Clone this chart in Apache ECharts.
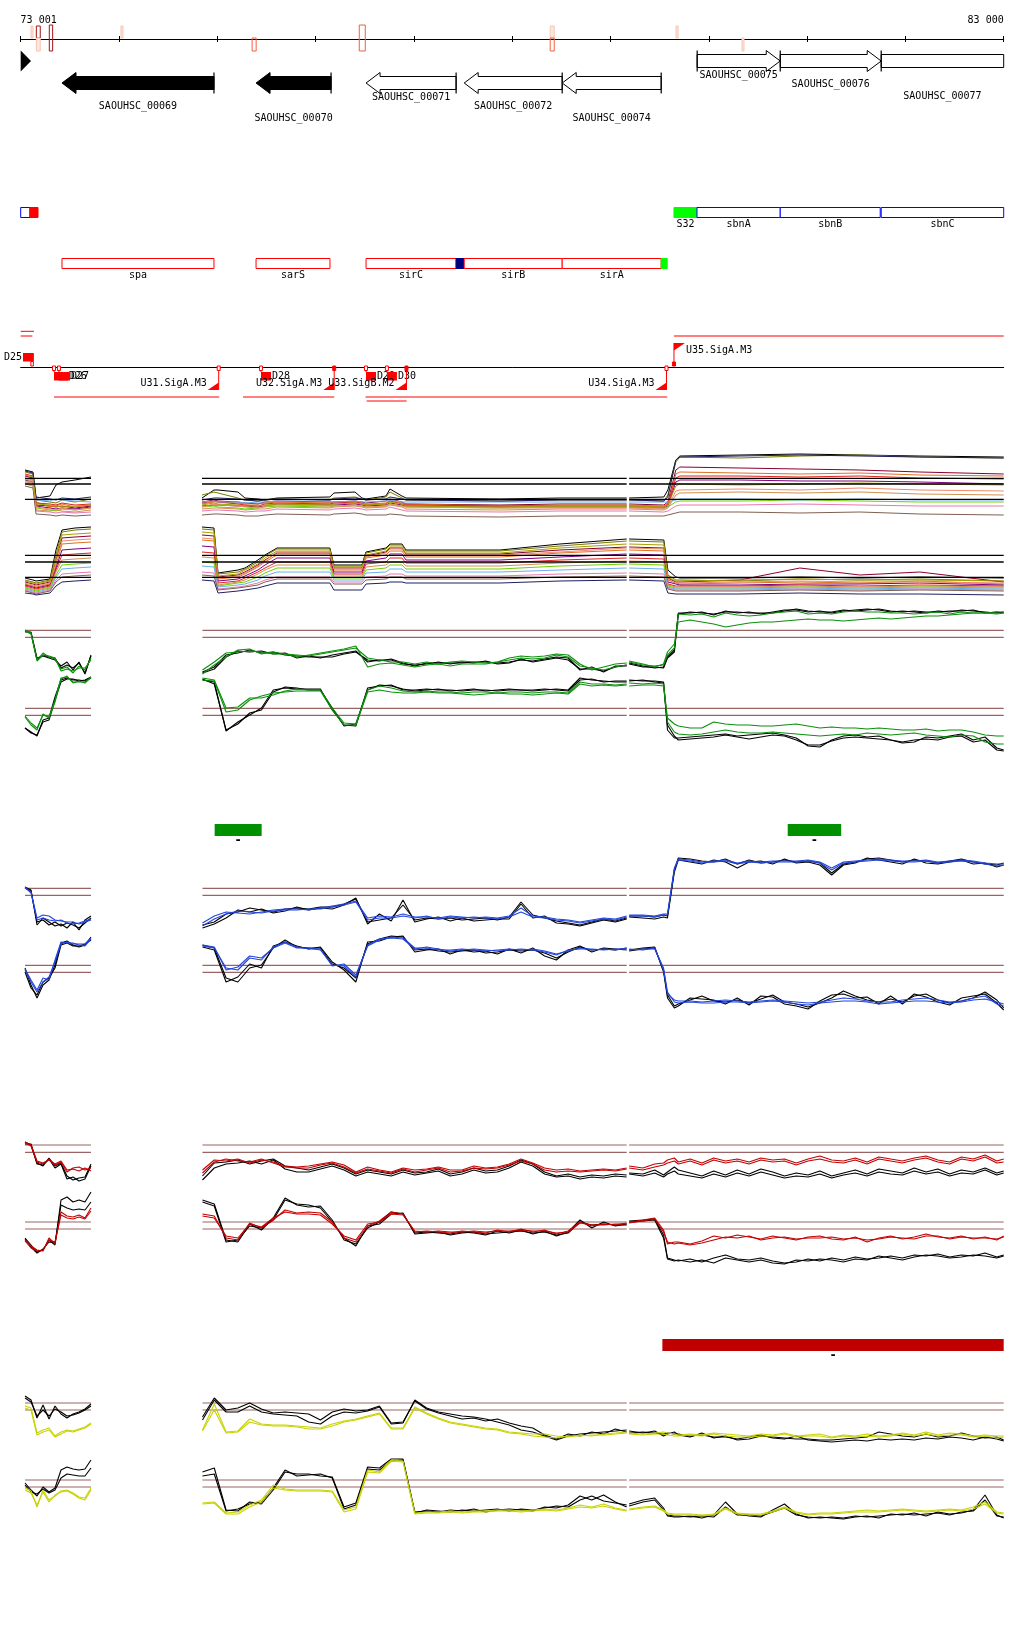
<!DOCTYPE html>
<html>
<head>
<meta charset="utf-8">
<script src="https://cdn.jsdelivr.net/npm/echarts@6.0.0/dist/echarts.min.js"></script>
<style>
html,body{margin:0;padding:0;background:#ffffff;}
#chart{width:1024px;height:1640px;}
</style>
</head>
<body>
<div id="chart"></div>
<script>
// ================= DATA =================
const VIEW_MIN = 73000;
const VIEW_MAX = 83000;
const TICK_STEP = 1000;
const END_LABELS = ['73 001', '83 000'];

// ruler feature marks
const RULER_START = [73106, 73160, 73160, 73292, 74021, 75355, 76445, 78387, 78387, 79667, 80338];
const RULER_END   = [73126, 73200, 73200, 73326, 74041, 75396, 76506, 78428, 78428, 79688, 80358];
const RULER_SIDE  = ['up', 'up', 'down', 'both', 'up', 'down', 'both', 'up', 'down', 'up', 'down'];
const RULER_SHADE = ['pale', 'dark', 'pale', 'dark', 'pale', 'mid', 'mid', 'pale', 'mid', 'pale', 'pale'];

// genes
const GENE_NAMES  = ['SAOUHSC_00069', 'SAOUHSC_00070', 'SAOUHSC_00071', 'SAOUHSC_00072', 'SAOUHSC_00074', 'SAOUHSC_00075', 'SAOUHSC_00076', 'SAOUHSC_00077'];
const GENE_START  = [73421, 75395, 76514, 77512, 78509, 79882, 80727, 81754];
const GENE_END    = [74967, 76158, 77430, 78509, 79516, 80727, 81754, 83000];
const GENE_STRAND = ['-', '-', '-', '-', '-', '+', '+', '+'];
const GENE_FILLED = [true, true, false, false, false, false, false, false];
const GENE_LABEL_ROW = [1, 2, 0, 1, 2, 0, 1, 2];
const START_MARK = [73001, 73106];

// annotation row 1
const ANN1_START = [73001, 73095, 79646, 79880, 80727, 81754];
const ANN1_END   = [73095, 73177, 79880, 80727, 81744, 83000];
const ANN1_LABEL = ['', '', 'S32', 'sbnA', 'sbnB', 'sbnC'];
const ANN1_KIND  = ['outline', 'fill', 'fill', 'outline', 'outline', 'outline'];
const ANN1_COLOR = ['#0000ff', '#ff0000', '#00ff00', '#0000ff', '#0000ff', '#0000ff'];

// annotation row 2
const ANN2_START = [73421, 75395, 76514, 77430, 77512, 78509, 79516];
const ANN2_END   = [74967, 76147, 77430, 77512, 78509, 79516, 79577];
const ANN2_LABEL = ['spa', 'sarS', 'sirC', '', 'sirB', 'sirA', ''];
const ANN2_KIND  = ['outline', 'outline', 'outline', 'fill', 'outline', 'outline', 'fill'];
const ANN2_COLOR = ['#ff0000', '#ff0000', '#ff0000', '#000080', '#ff0000', '#ff0000', '#00ff00'];

// transcripts
const TX_START  = [73001, 73001, 79646, 73340, 75262, 76509, 76520];
const TX_END    = [73136, 73120, 83000, 75020, 76190, 79577, 76927];
const TX_STRAND = ['+', '+', '+', '-', '-', '-', '-'];
const TX_ROW    = [1, 0, 0, 0, 0, 0, 1];

// promoters
const PROM_NAME   = ['U31.SigA.M3', 'U32.SigA.M3', 'U33.SigB.M2', 'U34.SigA.M3', 'U35.SigA.M3'];
const PROM_POS    = [75015, 76190, 76925, 79570, 79646];
const PROM_STRAND = ['-', '-', '-', '-', '+'];
const PROM_BOX    = ['open', 'filled', 'filled', 'open', 'filled'];

// D elements
const D_NAME   = ['D25', 'D26', 'D27', 'D28', 'D29', 'D30'];
const D_START  = [73024, 73340, 73390, 75445, 76513, 76726];
const D_END    = [73135, 73480, 73502, 75547, 76615, 76828];
const D_STRAND = ['+', '-', '-', '-', '-', '-'];

// region bars
const GBAR_START = [74974, 80803];
const GBAR_END   = [75452, 81347];
const GBAR_LABEL = ['-', '-'];
const RBAR_START = [79528];
const RBAR_END   = [83000];
const RBAR_LABEL = ['-'];

// ---------- multi-profile track ----------
const MPOS = [73045, 73126, 73157, 73299, 73360, 73421, 73553, 73716,
  74845, 74967, 75008, 75211, 75282, 75414, 75486, 75608, 76146, 76187, 76401, 76472, 76513, 76716, 76757, 76879, 76920, 77876, 78486, 79165,
  79190, 79543, 79584, 79665, 79706, 80317, 80927, 81537, 82147, 83000];
const MF01 = [140,138,112,114,125,128,130,133, 112,120,120,118,112,111,110,112,113,117,118,112,111,114,121,114,112,111,112,112, 112,113,120,150,154,155,156,155,154,153];
const MF02 = [138,136,110,108,107,110,108,111, 115,118,117,112,110,109,110,111,110,112,113,111,110,113,118,112,110,109,110,110, 110,109,115,148,153,152,154,155,153,152];
const MF03 = [134,132,105,104,103,104,102,104, 108,110,109,108,107,106,108,109,108,108,109,108,107,109,111,108,106,105,106,106, 106,105,108,140,143,142,141,140,138,136];
const MF04 = [132,130,108,103,104,106,103,105, 106,108,108,107,106,106,107,108,107,107,107,106,106,107,110,107,106,104,105,105, 105,104,106,136,138,137,136,137,135,134];
const MF05 = [130,128,104,102,101,102,101,103, 104,105,105,104,104,103,104,106,105,105,106,105,104,105,107,105,104,103,103,103, 103,102,104,128,130,130,129,129,128,126];
const MF06 = [136,134,107,106,105,107,105,106, 107,109,108,106,105,104,106,107,106,107,108,107,105,106,109,106,105,104,104,104, 104,103,106,132,134,134,133,134,132,131];
const MF07 = [128,127,100,99,100,99,98,100, 101,102,102,101,100,101,101,103,102,103,104,103,102,103,105,103,101,100,101,101, 101,100,102,115,117,118,117,118,116,115];
const MF08 = [127,125,102,100,99,101,100,102, 103,104,103,102,101,102,103,104,103,104,105,104,103,104,106,104,103,102,103,103, 103,102,103,108,109,109,110,109,108,108];
const MF09 = [129,128,110,109,111,110,109,108, 108,109,108,108,107,108,108,109,109,108,109,108,108,109,110,108,108,108,108,108, 108,108,108,110,111,111,110,111,110,110];
const MF10 = [126,124,99,98,97,98,97,98, 99,100,100,99,98,99,99,101,100,101,102,101,100,101,103,100,99,98,99,99, 99,98,99,104,105,105,106,105,104,104];
const MF11 = [124,122,96,95,94,95,94,95, 95,96,96,95,94,94,95,96,95,96,97,96,95,95,96,95,94,93,94,94, 94,94,95,97,98,98,97,98,96,95];
const MF12 = [139,137,113,111,110,112,111,113, 110,112,112,111,110,109,110,111,110,111,112,111,110,111,113,111,110,109,110,110, 110,109,113,150,153,154,155,154,153,152];
const MF13 = [131,129,103,101,100,102,100,102, 103,106,105,104,103,102,104,105,104,104,105,104,103,104,106,104,103,102,102,102, 102,101,103,119,120,121,120,122,120,119];
const MF14 = [135,133,106,105,104,103,104,105, 105,107,106,105,104,104,105,106,105,106,107,106,105,106,108,106,104,103,104,104, 104,103,105,124,126,125,126,127,126,125];
const MR01 = [32,30,29,31,60,80,82,83, 83,82,37,40,42,50,55,62,62,45,45,45,58,62,66,66,60,60,66,71, 71,70,40,33,32,32,33,32,33,32];
const MR02 = [30,28,27,30,55,78,80,81, 81,80,36,38,41,48,54,61,61,44,44,44,57,61,65,65,59,59,64,69, 69,68,35,30,30,29,31,30,31,29];
const MR03 = [28,26,25,28,50,72,73,74, 75,74,33,35,38,45,50,57,57,42,42,42,54,58,62,62,56,56,60,63, 63,62,32,28,28,30,42,35,38,28];
const MR04 = [26,24,23,26,45,66,67,68, 70,69,31,33,36,43,48,55,55,40,40,40,52,55,59,59,53,53,57,60, 60,59,30,27,26,27,28,27,29,26];
const MR05 = [25,23,22,25,42,60,61,62, 64,63,29,31,34,40,45,52,52,38,38,38,49,52,56,56,50,50,53,56, 56,55,28,26,25,25,26,26,27,25];
const MR06 = [24,22,21,24,40,55,56,57, 58,57,27,29,32,38,42,48,48,36,36,36,46,48,52,52,47,47,50,52, 52,51,26,24,24,24,25,24,25,24];
const MR07 = [23,21,20,23,38,50,51,52, 53,52,25,28,30,36,40,45,45,34,34,34,43,45,48,48,44,44,47,49, 49,48,25,23,23,23,24,23,24,23];
const MR08 = [22,20,19,22,35,45,46,47, 48,47,24,27,28,33,37,42,42,32,32,32,40,42,45,45,41,41,44,46, 46,45,24,22,22,22,23,22,23,22];
const MR09 = [21,19,18,21,33,41,42,43, 44,43,23,25,26,30,34,38,38,30,30,30,37,38,41,41,38,38,40,42, 42,41,23,21,21,21,22,21,22,21];
const MR10 = [20,18,17,20,30,36,37,38, 38,37,21,23,24,27,30,33,33,28,28,28,33,34,36,36,34,34,36,37, 37,36,22,20,20,20,21,20,21,20];
const MR11 = [19,17,16,19,28,33,34,35, 35,34,20,22,23,25,28,31,31,26,26,26,30,31,33,33,31,31,33,34, 34,33,21,19,19,19,20,19,20,19];
const MR12 = [17,16,15,17,24,28,29,30, 30,29,17,19,20,22,24,27,27,20,20,20,26,27,28,28,27,27,29,30, 30,29,17,16,16,16,17,16,16,15];
const MR13 = [27,25,24,27,48,69,70,71, 72,71,32,34,37,44,49,58,58,41,41,41,53,57,61,61,55,55,58,62, 62,61,31,27,27,28,29,28,28,27];
const MR14 = [29,27,26,29,52,75,76,77, 78,77,34,36,40,46,52,59,59,43,43,43,55,59,63,63,57,57,62,66, 66,65,33,29,29,30,31,30,30,29];
const MULTI_REF = [131.7, 126, 110.7, 54.7, 48, 32.7];

// ---------- paired-profile tracks ----------
const POS = [73045,73106,73167,73228,73289,73350,73411,73472,73533,73594,73655,73716,
  74850,74970,75090,75210,75330,75450,75570,75690,75810,75930,76050,76170,
  76290,76410,76530,76650,76770,76890,77010,77130,77250,77370,77490,77610,
  77730,77850,77970,78090,78210,78330,78450,78570,78690,78810,78930,79050,
  79165,79190,79330,79450,79540,79580,79650,79690,
  79810,79930,80050,80170,80290,80410,80530,80650,80770,80890,81010,81130,81250,81370,
  81490,81610,81730,81850,81970,82090,82210,82330,82450,82570,82690,82810,82930,83000];

// green track
const GF_K1 = [139,137,110,115,113,112,102,105,102,107,97,114,
  98,103,115,117,120,117,118,115,114,113,113,113,
  116,118,110,109,111,107,104,107,107,107,107,108,
  108,107,108,110,109,111,113,112,100,103,98,104,
  104,107,104,102,103,113,120,157,
  157,158,155,159,157,158,156,158,160,160,158,159,157,159,
  160,161,160,158,159,158,157,159,158,160,159,158,157,158];
const GF_K2 = [138,138,112,114,112,110,104,108,100,108,96,115,
  97,101,113,119,118,119,116,117,112,114,112,115,
  117,119,108,110,110,106,105,106,108,106,108,107,
  109,106,107,111,108,110,112,110,101,101,99,103,
  105,106,103,103,102,112,118,156,
  158,157,156,158,158,157,157,157,159,161,159,158,158,160,
  159,160,161,159,158,159,158,158,159,159,160,157,158,157];
const GF_C1 = [139,136,110,117,113,111,101,103,97,104,100,112,
  100,108,117,118,119,118,116,116,115,114,116,118,
  120,122,112,110,108,108,106,108,106,108,109,108,
  107,108,110,112,111,112,115,113,104,102,100,103,
  105,108,105,104,105,115,122,156,
  155,156,153,157,155,154,155,157,158,159,156,157,156,158,
  159,158,158,157,157,156,157,158,156,158,157,157,156,157];
const GF_C2 = [140,137,109,115,114,112,99,101,99,102,102,110,
  96,105,113,120,121,116,118,116,113,115,117,119,
  121,124,103,106,107,105,103,105,106,104,106,106,
  106,108,112,114,113,114,116,115,106,100,103,106,
  107,109,106,103,106,118,126,148,
  150,148,146,143,145,147,148,148,149,150,151,150,150,149,
  150,151,152,151,152,153,154,154,155,156,157,157,158,158];
const GR_K1 = [42,38,34,50,52,73,90,92,90,90,89,92,
  90,88,39,48,55,62,80,82,81,81,81,60,
  45,44,82,84,85,80,80,81,80,80,79,80,
  80,79,80,80,79,80,81,80,92,90,89,88,
  88,90,89,89,88,40,32,32,
  33,34,35,36,34,35,36,37,35,32,24,23,30,34,
  35,33,34,30,27,28,33,32,34,36,30,33,22,20];
const GR_K2 = [42,37,35,48,50,70,88,91,91,89,90,93,
  91,86,40,46,57,60,78,83,82,80,80,62,
  44,46,80,85,84,81,79,80,81,79,80,81,
  79,80,81,80,80,81,80,79,90,91,88,89,
  89,89,90,88,87,45,34,30,
  31,32,33,35,33,31,33,35,34,30,25,25,29,32,
  33,32,31,30,28,30,31,30,33,34,28,30,20,19];
const GR_C1 = [54,47,42,55,53,70,92,93,88,88,88,92,
  92,90,62,63,72,72,75,79,81,80,80,62,
  47,46,80,84,82,79,78,79,78,78,77,78,
  78,77,78,78,77,78,78,77,88,86,86,85,
  86,87,86,87,86,52,46,44,
  42,42,48,46,45,45,44,44,45,46,44,42,43,42,
  42,41,42,41,40,40,41,39,40,40,38,35,34,34];
const GR_C2 = [53,45,40,56,52,68,91,94,87,89,87,93,
  90,89,58,60,70,74,77,78,79,79,79,60,
  45,45,78,80,78,77,77,78,77,77,76,75,
  76,77,76,76,75,76,77,76,86,84,85,84,
  85,84,85,85,84,48,38,36,
  35,36,38,40,38,37,37,38,37,36,35,34,35,36,
  35,37,36,35,36,37,35,34,33,35,34,28,26,26];
const GREEN_REF = [139.7, 132.7, 61.7, 54.7];

// blue track
const BF_K1 = [153,150,115,122,118,114,116,112,118,110,120,124,
  115,118,126,128,132,130,128,131,132,131,133,133,
  136,141,118,120,122,135,120,122,121,122,120,121,
  122,120,123,138,125,122,119,117,115,118,121,119,
  122,124,124,123,125,124,170,182,
  181,179,178,181,176,180,177,178,180,178,179,177,167,176,
  178,181,182,180,178,180,179,177,179,181,178,176,175,177];
const BF_K2 = [152,149,118,120,115,118,114,117,115,112,117,122,
  112,116,122,130,128,131,127,129,133,130,132,131,
  135,142,116,126,119,140,118,121,123,119,122,119,
  120,121,121,136,122,124,117,116,114,117,120,118,
  121,123,122,121,123,122,168,180,
  178,176,180,178,172,178,179,176,181,177,178,175,165,175,
  177,182,180,178,176,181,177,176,178,180,176,177,173,175];
const BF_C1 = [152,148,122,125,124,120,119,118,118,116,118,120,
  117,124,128,127,126,128,130,131,131,130,132,134,
  136,139,122,124,123,126,123,123,122,124,123,122,
  123,122,124,132,124,123,121,120,118,120,122,121,
  124,125,125,124,126,126,172,181,
  180,178,179,180,177,179,178,179,179,179,180,178,172,178,
  179,180,181,180,179,179,180,178,179,180,179,177,176,176];
const BF_C2 = [153,147,120,122,120,119,120,117,116,117,119,121,
  114,121,126,129,128,127,129,130,130,131,131,133,
  135,138,120,122,122,124,122,124,121,123,122,123,
  122,121,123,128,123,122,120,119,117,119,121,120,
  123,124,124,123,125,125,171,180,
  179,177,178,179,176,178,177,178,178,178,179,177,170,177,
  178,179,180,179,178,178,179,177,178,179,178,176,174,175];
const BR_K1 = [72,55,42,55,60,75,97,99,95,93,95,103,
  95,92,62,58,72,75,92,100,93,92,92,76,
  72,62,96,101,104,103,90,91,89,88,89,90,
  87,88,90,89,90,87,82,88,93,90,91,90,
  92,89,91,92,70,45,34,36,
  40,44,39,38,40,37,41,45,38,36,33,37,42,49,
  44,40,38,41,38,44,46,40,37,39,42,48,40,32];
const BR_K2 = [68,52,45,58,62,72,95,97,94,94,96,100,
  93,90,58,63,76,72,94,98,94,91,93,78,
  70,58,98,99,103,104,88,90,91,86,90,88,
  89,86,91,87,92,84,80,90,94,88,92,91,
  90,90,92,93,68,42,32,34,
  42,41,40,36,42,35,44,43,36,34,31,39,45,46,
  42,43,36,44,36,46,43,38,35,42,44,46,37,30];
const BR_C1 = [70,58,48,58,63,78,96,98,96,96,96,102,
  94,92,72,70,82,80,93,98,93,91,91,74,
  76,65,94,100,103,102,92,92,90,90,91,90,
  89,90,91,90,91,89,86,89,92,90,91,90,
  92,90,91,91,72,48,38,37,
  38,37,37,38,38,37,38,39,38,36,35,37,38,39,
  39,38,36,37,38,39,39,38,37,38,40,41,38,36];
const BR_C2 = [71,60,50,62,60,80,98,97,97,95,94,101,
  95,93,70,73,84,82,92,97,92,92,90,75,
  74,63,95,101,102,101,91,93,91,89,90,91,
  90,89,90,91,90,88,85,90,91,91,90,91,
  91,91,90,92,70,46,40,39,
  39,38,39,40,39,38,39,40,39,38,37,38,40,42,
  41,39,38,38,40,41,42,40,38,39,42,44,36,34];
const BLUE_REF = [151.7, 144.7, 74.7, 67.7];

// red track
const RF_K1 = [138,135,117,114,122,114,117,104,100,102,103,116,
  104,117,118,120,116,119,121,114,112,110,113,116,
  112,106,110,108,106,110,107,108,111,106,108,112,
  109,110,114,120,116,108,104,106,103,105,104,106,
  105,107,106,110,105,108,113,110,
  107,104,109,105,110,106,111,108,104,107,105,109,104,107,
  110,106,111,109,107,112,108,111,106,110,108,112,107,109];
const RF_K2 = [136,136,116,115,121,112,116,101,103,99,101,114,
  100,112,116,117,119,116,120,111,108,108,111,114,
  110,104,108,106,104,108,105,107,109,104,106,110,
  107,108,112,118,114,106,103,104,101,103,102,104,
  103,106,104,107,103,106,109,106,
  104,102,106,103,107,104,108,105,102,104,103,106,102,105,
  107,104,108,106,105,109,106,108,104,107,106,110,105,107];
const RF_C1 = [137,134,118,116,121,115,118,108,112,113,110,112,
  110,120,119,121,117,120,118,114,113,114,116,118,
  115,108,113,110,108,112,110,111,113,110,110,114,
  112,113,116,121,117,112,110,111,109,110,111,110,
  112,114,112,116,117,120,122,118,
  121,117,122,119,121,118,122,120,121,117,121,124,120,119,
  122,118,123,121,119,122,124,120,118,123,121,125,119,121];
const RF_C2 = [138,135,119,117,120,116,119,110,111,109,112,109,
  107,118,121,119,118,121,117,113,112,112,115,117,
  113,107,111,109,107,111,108,110,112,108,109,112,
  111,112,115,119,116,110,108,109,108,109,110,109,
  111,112,110,113,115,117,119,116,
  119,115,120,117,119,116,120,118,119,115,119,121,118,117,
  120,116,121,119,117,120,122,118,116,121,119,123,117,118];
const RR_K1 = [42,35,28,30,40,35,80,83,78,80,78,88,
  80,76,40,38,56,50,62,82,75,73,74,60,
  40,36,52,58,68,66,47,48,47,46,48,47,
  45,49,47,50,46,49,44,48,60,52,58,54,
  56,59,60,61,45,22,20,19,
  21,18,22,25,21,20,22,19,17,18,21,19,22,20,
  23,21,22,24,22,25,24,26,23,25,24,27,23,25];
const RR_K2 = [41,33,27,31,38,37,75,72,70,71,70,78,
  78,74,38,40,54,52,60,80,76,75,72,58,
  42,34,54,56,66,67,46,47,48,45,47,48,
  46,47,48,49,47,48,45,47,58,55,56,55,
  55,58,59,60,42,21,19,20,
  18,20,17,22,20,18,20,17,16,20,19,21,20,18,
  21,20,24,22,20,23,25,24,22,23,25,24,22,24];
const RR_C1 = [40,34,30,29,42,36,68,64,63,65,62,72,
  66,64,42,40,57,52,60,70,67,68,67,58,
  42,38,54,59,68,66,48,49,48,47,49,48,
  47,50,48,51,48,50,46,49,58,54,56,55,
  57,58,60,62,50,36,38,38,
  36,39,44,42,45,43,41,44,42,40,43,44,41,40,
  43,38,42,44,41,43,46,43,42,44,41,43,40,44];
const RR_C2 = [39,32,29,30,40,38,65,62,61,63,61,69,
  64,62,44,42,56,53,62,68,66,66,65,56,
  44,40,56,58,66,65,49,48,49,48,48,49,
  48,49,49,50,49,49,47,48,57,55,55,56,
  56,57,59,61,48,38,36,37,
  35,37,40,43,42,44,40,42,43,41,42,42,43,41,
  42,40,41,43,42,41,44,44,41,43,42,42,41,43];
const RED_REF = [135, 127.7, 58, 51];

// yellow track
const YF_K1 = [144,140,122,135,121,134,126,122,126,128,131,136,
  123,142,130,132,137,131,127,128,127,126,120,128,
  131,129,130,134,117,118,139,131,127,124,121,122,
  119,121,117,114,112,105,101,106,104,108,106,111,
  108,109,107,109,104,106,108,105,
  103,107,102,104,100,101,104,103,102,101,101,100,100,101,
  102,103,108,106,104,103,106,103,104,107,104,102,103,100];
const YF_K2 = [142,138,124,130,124,131,128,124,125,127,130,134,
  120,140,128,128,134,128,126,125,124,118,116,124,
  128,127,129,133,116,117,140,132,128,126,124,123,
  121,118,115,110,108,104,100,104,106,107,108,109,
  110,107,108,107,106,107,106,106,
  104,105,103,103,101,103,105,102,101,104,100,99,98,99,
  100,99,101,100,101,100,102,101,103,102,100,103,101,99];
const YF_C1 = [134,132,107,110,112,104,108,110,109,111,113,117,
  110,136,108,109,121,116,115,115,114,113,112,116,
  119,121,124,127,112,112,133,127,122,118,116,114,
  112,111,108,107,106,106,104,103,105,104,106,107,
  108,107,106,107,108,107,106,105,
  106,105,107,106,105,104,106,105,107,104,105,106,103,105,
  104,106,104,105,107,105,108,105,107,106,104,105,104,104];
const YF_C2 = [132,130,105,108,110,103,106,109,108,110,112,116,
  109,130,107,108,118,115,114,114,113,111,111,114,
  118,120,123,126,111,111,132,126,121,117,115,113,
  111,110,107,106,104,103,102,104,104,105,105,106,
  107,106,105,106,106,105,104,104,
  105,104,106,104,103,103,104,104,106,103,104,104,102,104,
  103,104,103,104,106,104,106,104,105,105,103,104,102,103];
const YR_K1 = [57,50,44,53,48,52,70,73,71,70,71,80,
  68,72,30,29,38,36,50,68,66,66,64,63,
  33,37,73,72,81,81,28,29,28,30,29,31,
  28,30,31,30,29,33,32,35,44,40,45,38,
  33,36,40,42,32,24,23,23,
  24,22,25,38,26,24,23,30,36,26,22,23,22,21,
  23,24,22,26,25,27,24,28,26,27,30,45,25,22];
const YR_K2 = [55,48,46,51,47,50,62,66,65,64,64,72,
  64,66,29,31,36,38,52,70,64,65,66,62,
  31,35,71,70,79,80,27,30,29,28,30,29,
  30,31,29,31,30,32,34,33,40,44,39,37,
  35,34,38,40,30,25,24,24,
  23,24,23,33,25,25,24,28,32,25,23,22,23,22,
  24,23,24,25,26,25,26,27,25,28,29,40,24,23];
const YR_C1 = [52,49,33,50,40,44,49,50,47,43,42,52,
  37,38,27,28,35,40,55,51,50,50,50,49,
  30,33,70,68,80,79,27,28,28,29,28,29,
  29,30,30,29,30,31,30,32,35,33,36,32,
  30,31,33,34,30,27,26,26,
  26,25,26,32,27,26,26,29,33,28,26,27,27,28,
  29,30,29,30,31,30,29,30,31,30,33,38,28,27];
const YR_C2 = [50,47,35,48,38,45,48,49,46,42,40,50,
  36,37,26,26,33,38,52,50,49,49,49,48,
  28,31,68,67,79,78,26,27,27,28,27,28,
  28,29,29,28,29,30,29,31,33,32,34,31,
  29,30,32,33,29,26,25,25,
  25,24,25,31,26,25,25,28,32,27,25,26,26,27,
  28,28,28,29,30,29,28,29,30,29,31,36,27,26];
const YEL_REF = [137, 130, 60, 53];

// ================= STYLE / LAYOUT =================
const FONT = '10px "DejaVu Sans Mono"';
const DASH_FONT = 'bold 12px "DejaVu Sans Mono"';
const GRID_LEFT = 20.6, GRID_WIDTH = 983.1;
const LAYOUT = [
  { top: 38, height: 1, y: 'unit' },      // 0 ruler
  { top: 50, height: 44, y: 'lanes2' },   // 1 genes
  { top: 207, height: 11, y: 'lane' },    // 2 annotation 1
  { top: 258, height: 11, y: 'lane' },    // 3 annotation 2
  { top: 366, height: 1, y: 'unit' },     // 4 promoters/terminators
  { top: 440, height: 170, y: 'val' },    // 5 multi profiles
  { top: 590, height: 180, y: 'val' },    // 6 green
  { top: 824, height: 12, y: 'lane' },    // 7 green bars
  { top: 840, height: 200, y: 'val' },    // 8 blue
  { top: 1120, height: 160, y: 'val' },   // 9 red
  { top: 1339, height: 12, y: 'lane' },   // 10 red bar
  { top: 1360, height: 180, y: 'val' }    // 11 yellow
];
const MULTI_COLORS = ['#000000', '#7a7a00', '#8b0030', '#e07020', '#800080', '#e02020', '#d09050',
  '#70d000', '#6aaef0', '#e878b0', '#806050', '#202060', '#f08a6a', '#a8a000'];
const C = { black: '#000000', green: '#0a900a', blue: '#2244dd', red: '#c40000', yellow: '#c8d200', ref: '#9a6464' };
const SHADE = {
  pale: { stroke: '#f5c6b4', fill: '#fce6dd' },
  dark: { stroke: '#a31515', fill: null },
  mid: { stroke: '#f2603f', fill: null }
};

// ================= HELPERS =================
function textEl(x, y, s, align, font) {
  return { type: 'text', silent: true, style: { x: x, y: y, text: s, fill: '#000', font: font || FONT, align: align || 'center', verticalAlign: 'middle' } };
}
function pairs(pos, vals, breaks) {
  const out = [];
  for (let i = 0; i < pos.length && i < vals.length; i++) {
    if (breaks.indexOf(i) >= 0) out.push([(pos[i - 1] + pos[i]) / 2, '-']);
    out.push([pos[i], vals[i]]);
  }
  return out;
}
function refPairs(pos, v, breaks) {
  const out = [];
  const cuts = [0].concat(breaks).concat([pos.length]);
  for (let k = 0; k < cuts.length - 1; k++) {
    if (k > 0) out.push([(pos[cuts[k] - 1] + pos[cuts[k]]) / 2, '-']);
    out.push([pos[cuts[k]], v]);
    out.push([pos[cuts[k + 1] - 1], v]);
  }
  return out;
}
function lineSeries(g, data, color, width, z) {
  return { type: 'line', xAxisIndex: g, yAxisIndex: g, data: data, showSymbol: false, symbol: 'none',
    silent: true, animation: false, connectNulls: false, clip: false, z: z || 2,
    lineStyle: { color: color, width: width } };
}

// ================= RENDERERS =================
function renderRuler(params, api) {
  const i = params.dataIndex;
  const a = api.coord([api.value(0), 1]), b = api.coord([api.value(1), 1]);
  const y = a[1];
  let y0, y1;
  if (RULER_SIDE[i] === 'up') { y0 = y - 12; y1 = y; }
  else if (RULER_SIDE[i] === 'down') { y0 = y; y1 = y + 13; }
  else { y0 = y - 13; y1 = y + 13; }
  const sh = SHADE[RULER_SHADE[i]];
  return { type: 'rect', shape: { x: a[0], y: y0, width: Math.max(b[0] - a[0], 2), height: y1 - y0 },
    style: { fill: sh.fill || 'rgba(0,0,0,0)', stroke: sh.stroke, lineWidth: 1 } };
}
const HEAD = 14, BODY_HALF = 6.5, LABEL_OFFS = [14.5, 23, 35];
function renderGene(params, api) {
  const i = params.dataIndex;
  const s = api.value(0), e = api.value(1), lane = api.value(2);
  const a = api.coord([s, lane]), b = api.coord([e, lane]);
  const band = api.size([0, 1])[1];
  const half = (band - 1) / 2, cy = a[1], x0 = a[0], x1 = b[0];
  const fwd = GENE_STRAND[i] === '+';
  const fill = GENE_FILLED[i] ? '#000' : '#fff';
  let pts, barX;
  if (fwd) {
    const head = e < VIEW_MAX;
    barX = x0;
    pts = head ? [[x1, cy], [x1 - HEAD, cy - half], [x1 - HEAD, cy - BODY_HALF], [x0, cy - BODY_HALF], [x0, cy + BODY_HALF], [x1 - HEAD, cy + BODY_HALF], [x1 - HEAD, cy + half]]
      : [[x1, cy - BODY_HALF], [x0, cy - BODY_HALF], [x0, cy + BODY_HALF], [x1, cy + BODY_HALF]];
  } else {
    const head = s > VIEW_MIN;
    barX = x1;
    pts = head ? [[x0, cy], [x0 + HEAD, cy - half], [x0 + HEAD, cy - BODY_HALF], [x1, cy - BODY_HALF], [x1, cy + BODY_HALF], [x0 + HEAD, cy + BODY_HALF], [x0 + HEAD, cy + half]]
      : [[x0, cy - BODY_HALF], [x1, cy - BODY_HALF], [x1, cy + BODY_HALF], [x0, cy + BODY_HALF]];
  }
  return { type: 'group', children: [
    { type: 'polygon', shape: { points: pts }, style: { fill: fill, stroke: '#000', lineWidth: 1 } },
    { type: 'line', shape: { x1: barX, y1: cy - half, x2: barX, y2: cy + half }, style: { stroke: '#000', lineWidth: 1.2 } },
    textEl((x0 + x1) / 2, cy + LABEL_OFFS[GENE_LABEL_ROW[i]], GENE_NAMES[i], 'center')
  ] };
}
function renderStart(params, api) {
  const a = api.coord([api.value(0), 0]), b = api.coord([api.value(1), 0]);
  const half = (api.size([0, 1])[1] - 1) / 2;
  return { type: 'polygon', shape: { points: [[a[0], a[1] - half], [b[0], a[1]], [a[0], a[1] + half]] }, style: { fill: '#000' } };
}
function boxRenderer(KIND, COLOR, LABEL) {
  return function (params, api) {
    const i = params.dataIndex;
    const a = api.coord([api.value(0), 0]), b = api.coord([api.value(1), 0]);
    const h = api.size([0, 1])[1] - 1;
    const filled = KIND[i] === 'fill';
    const ch = [{ type: 'rect', shape: { x: a[0], y: a[1] - h / 2, width: b[0] - a[0], height: h },
      style: { fill: filled ? COLOR[i] : '#ffffff', stroke: COLOR[i], lineWidth: 1 } }];
    if (LABEL[i]) ch.push(textEl((a[0] + b[0]) / 2, a[1] + 11.5, LABEL[i], 'center'));
    return { type: 'group', children: ch };
  };
}
function barRenderer(LABEL, color) {
  return function (params, api) {
    const i = params.dataIndex;
    const a = api.coord([api.value(0), 0]), b = api.coord([api.value(1), 0]);
    const h = api.size([0, 1])[1];
    return { type: 'group', children: [
      { type: 'rect', shape: { x: a[0], y: a[1] - h / 2, width: b[0] - a[0], height: h }, style: { fill: color } },
      textEl((a[0] + b[0]) / 2, a[1] + h / 2 + 5, LABEL[i], 'center', DASH_FONT)
    ] };
  };
}
function renderTx(params, api) {
  const i = params.dataIndex;
  const a = api.coord([api.value(0), 1]), b = api.coord([api.value(1), 1]);
  const y = TX_STRAND[i] === '+' ? a[1] - 30 - TX_ROW[i] * 4.7 : a[1] + 31 + TX_ROW[i] * 4;
  return { type: 'line', shape: { x1: a[0], y1: y, x2: b[0], y2: y }, style: { stroke: '#ff0000', lineWidth: 1 } };
}
function renderProm(params, api) {
  const i = params.dataIndex;
  const p = api.coord([api.value(0), 1]);
  const x = p[0], y = p[1];
  const red = '#ff0000';
  const ch = [];
  if (PROM_STRAND[i] === '-') {
    ch.push({ type: 'line', shape: { x1: x, y1: y, x2: x, y2: y + 24 }, style: { stroke: red, lineWidth: 1 } });
    ch.push({ type: 'polygon', shape: { points: [[x, y + 16.5], [x, y + 24], [x - 11, y + 24]] }, style: { fill: red } });
    ch.push({ type: 'rect', shape: { x: x - 1.5, y: y, width: 3, height: 4.5 }, style: { fill: PROM_BOX[i] === 'filled' ? red : '#fff', stroke: red, lineWidth: 1 } });
    ch.push(textEl(x - 12, y + 17, PROM_NAME[i], 'right'));
  } else {
    ch.push({ type: 'line', shape: { x1: x, y1: y, x2: x, y2: y - 23 }, style: { stroke: red, lineWidth: 1 } });
    ch.push({ type: 'polygon', shape: { points: [[x, y - 23], [x + 11, y - 23], [x, y - 15.5]] }, style: { fill: red } });
    ch.push({ type: 'rect', shape: { x: x - 1.5, y: y - 4, width: 3, height: 4 }, style: { fill: PROM_BOX[i] === 'filled' ? red : '#fff', stroke: red, lineWidth: 1 } });
    ch.push(textEl(x + 12, y - 16, PROM_NAME[i], 'left'));
  }
  return { type: 'group', children: ch };
}
function renderD(params, api) {
  const i = params.dataIndex;
  const a = api.coord([api.value(0), 1]), b = api.coord([api.value(1), 1]);
  const y = a[1], red = '#ff0000';
  const ch = [];
  if (D_STRAND[i] === '+') {
    ch.push({ type: 'rect', shape: { x: a[0], y: y - 13, width: b[0] - a[0], height: 8.5 }, style: { fill: red } });
    ch.push({ type: 'rect', shape: { x: b[0] - 3, y: y - 4.5, width: 2.5, height: 4.5 }, style: { fill: '#fff', stroke: red, lineWidth: 1 } });
    ch.push(textEl(a[0] - 1, y - 8.5, D_NAME[i], 'right'));
  } else {
    ch.push({ type: 'line', shape: { x1: a[0], y1: y, x2: a[0], y2: y + 6 }, style: { stroke: red, lineWidth: 1 } });
    ch.push({ type: 'rect', shape: { x: a[0] - 1.5, y: y, width: 3, height: 4.5 }, style: { fill: '#fff', stroke: red, lineWidth: 1 } });
    ch.push({ type: 'rect', shape: { x: a[0], y: y + 6, width: b[0] - a[0], height: 8.5 }, style: { fill: red } });
    ch.push(textEl(b[0] + 1, y + 10, D_NAME[i], 'left'));
  }
  return { type: 'group', children: ch };
}

// ================= OPTION =================
const grids = LAYOUT.map(g => ({ left: GRID_LEFT, width: GRID_WIDTH, top: g.top, height: g.height }));
const xAxes = LAYOUT.map((g, i) => ({ gridIndex: i, type: 'value', min: VIEW_MIN, max: VIEW_MAX, show: false }));
xAxes[0] = {
  gridIndex: 0, type: 'value', min: VIEW_MIN, max: VIEW_MAX, interval: TICK_STEP, position: 'top', show: true,
  axisLine: { show: true, lineStyle: { color: '#000', width: 1 } },
  axisTick: { show: true, length: 3, lineStyle: { color: '#000', width: 1 } },
  splitLine: { show: false },
  axisLabel: { show: true, margin: 13, color: '#000', fontFamily: 'DejaVu Sans Mono', fontSize: 10,
    showMinLabel: true, showMaxLabel: true, alignMinLabel: 'left', alignMaxLabel: 'right', hideOverlap: false,
    formatter: v => (v === VIEW_MIN ? END_LABELS[0] : (v === VIEW_MAX ? END_LABELS[1] : '')) }
};
xAxes[4] = { gridIndex: 4, type: 'value', min: VIEW_MIN, max: VIEW_MAX, position: 'top', show: true,
  axisLine: { show: true, lineStyle: { color: '#000', width: 1 } }, axisTick: { show: false }, axisLabel: { show: false }, splitLine: { show: false } };
xAxes.push({ gridIndex: 0, type: 'value', min: VIEW_MIN, max: VIEW_MAX, interval: TICK_STEP, position: 'bottom', show: true,
  axisLine: { show: false }, axisTick: { show: true, length: 3, lineStyle: { color: '#000', width: 1 } }, axisLabel: { show: false }, splitLine: { show: false } });

const yAxes = LAYOUT.map((g, i) => {
  if (g.y === 'unit') return { gridIndex: i, type: 'value', min: 0, max: 1, show: false };
  if (g.y === 'lanes2') return { gridIndex: i, type: 'category', data: ['+', '-'], inverse: true, show: false };
  if (g.y === 'lane') return { gridIndex: i, type: 'category', data: ['lane'], show: false };
  return { gridIndex: i, type: 'value', min: 0, max: g.height, show: false };
});

const series = [];
function custom(g, data, render, z) {
  series.push({ type: 'custom', xAxisIndex: g, yAxisIndex: g, data: data, renderItem: render,
    encode: { x: [0, 1], y: 2 }, silent: true, animation: false, clip: false, z: z || 3 });
}
custom(0, RULER_START.map((s, i) => [s, RULER_END[i], 0]), renderRuler, 4);
custom(1, GENE_START.map((s, i) => [s, GENE_END[i], GENE_STRAND[i] === '+' ? 0 : 1]), renderGene);
custom(1, [[START_MARK[0], START_MARK[1], 0]], renderStart);
custom(2, ANN1_START.map((s, i) => [s, ANN1_END[i], 0]), boxRenderer(ANN1_KIND, ANN1_COLOR, ANN1_LABEL));
custom(3, ANN2_START.map((s, i) => [s, ANN2_END[i], 0]), boxRenderer(ANN2_KIND, ANN2_COLOR, ANN2_LABEL));
custom(4, TX_START.map((s, i) => [s, TX_END[i], 0]), renderTx);
custom(4, D_START.map((s, i) => [s, D_END[i], 0]), renderD);
custom(4, PROM_POS.map(p => [p, p, 0]), renderProm);
custom(7, GBAR_START.map((s, i) => [s, GBAR_END[i], 0]), barRenderer(GBAR_LABEL, '#009000'));
custom(10, RBAR_START.map((s, i) => [s, RBAR_END[i], 0]), barRenderer(RBAR_LABEL, '#c00000'));

// multi-profile lines
const MBREAKS = [8, 28];
[MF01, MF02, MF03, MF04, MF05, MF06, MF07, MF08, MF09, MF10, MF11, MF12, MF13, MF14].forEach((v, k) =>
  series.push(lineSeries(5, pairs(MPOS, v, MBREAKS), MULTI_COLORS[k], 1, 2)));
[MR01, MR02, MR03, MR04, MR05, MR06, MR07, MR08, MR09, MR10, MR11, MR12, MR13, MR14].forEach((v, k) =>
  series.push(lineSeries(5, pairs(MPOS, v, MBREAKS), MULTI_COLORS[k], 1, 2)));
MULTI_REF.forEach(v => series.push(lineSeries(5, refPairs(MPOS, v, MBREAKS), '#000', 1.3, 5)));

// paired tracks
const SBREAKS = [12, 49];
const PAIRED = [
  { g: 6, col: C.green, lines: [GF_K1, GF_K2, GR_K1, GR_K2], colored: [GF_C1, GF_C2, GR_C1, GR_C2], refs: GREEN_REF },
  { g: 8, col: C.blue, lines: [BF_K1, BF_K2, BR_K1, BR_K2], colored: [BF_C1, BF_C2, BR_C1, BR_C2], refs: BLUE_REF },
  { g: 9, col: C.red, lines: [RF_K1, RF_K2, RR_K1, RR_K2], colored: [RF_C1, RF_C2, RR_C1, RR_C2], refs: RED_REF },
  { g: 11, col: C.yellow, lines: [YF_K1, YF_K2, YR_K1, YR_K2], colored: [YF_C1, YF_C2, YR_C1, YR_C2], refs: YEL_REF }
];
PAIRED.forEach(t => {
  t.refs.forEach(v => series.push(lineSeries(t.g, refPairs(POS, v, SBREAKS), C.ref, 1.2, 1)));
  t.lines.forEach(v => series.push(lineSeries(t.g, pairs(POS, v, SBREAKS), C.black, 1.1, 2)));
  t.colored.forEach(v => series.push(lineSeries(t.g, pairs(POS, v, SBREAKS), t.col, 1.1, 3)));
});

const chart = echarts.init(document.getElementById('chart'), null, { renderer: 'canvas' });
chart.setOption({
  backgroundColor: '#ffffff',
  animation: false,
  grid: grids,
  xAxis: xAxes,
  yAxis: yAxes,
  series: series
});
</script>
</body>
</html>
